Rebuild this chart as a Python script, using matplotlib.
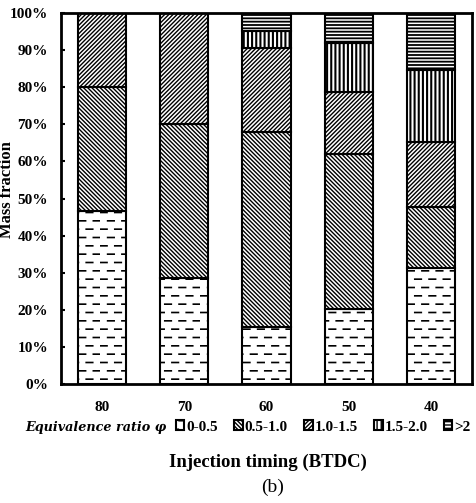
import warnings
import numpy as np
import matplotlib
matplotlib.use('Agg')
import matplotlib.pyplot as plt
import matplotlib.hatch as mhatch
from matplotlib.path import Path

warnings.filterwarnings('ignore')

# data: mass fraction (%) per equivalence-ratio band
timings = ['80', '70', '60', '50', '40']
bands = ['0-0.5', '0.5-1.0', '1.0-1.5', '1.5-2.0', '>2']
phi_00_05 = [46.7, 28.5, 15.4, 20.1, 31.4]
phi_05_10 = [33.3, 41.5, 52.6, 41.9, 16.4]
phi_10_15 = [20.0, 30.0, 22.5, 16.6, 17.5]
phi_15_20 = [0.0, 0.0, 4.6, 13.2, 19.3]
phi_gt_20 = [0.0, 0.0, 4.9, 8.2, 15.4]
yticks = [0, 10, 20, 30, 40, 50, 60, 70, 80, 90, 100]


# brick-style dashed hatch, triggered by '_'
class DashHatch(mhatch.HatchPatternBase):
    rows = 12
    dashes = 7

    def __init__(self, hatch, density):
        self.num_vertices = self.rows * self.dashes * 2 if '_' in hatch else 0

    def set_vertices_and_codes(self, vertices, codes):
        per = 1.0 / self.dashes
        pts = []
        for r in range(self.rows):
            y = (r + 0.5) / self.rows
            off = 0.5 * per * (r % 2)
            for k in range(self.dashes):
                x0 = off + k * per + 0.005
                pts.append((x0, y))
                pts.append((x0 + 0.065, y))
        vertices[:] = pts
        codes[0::2] = Path.MOVETO
        codes[1::2] = Path.LINETO


mhatch._hatch_types.append(DashHatch)

plt.rcParams['font.family'] = 'Liberation Serif'

fig = plt.figure(figsize=(4.77, 5.03), dpi=100)
ax = fig.add_axes([0.128, 0.2366, 0.8615, 0.7374])

series = [phi_00_05, phi_05_10, phi_10_15, phi_15_20, phi_gt_20]
hatches = ['_', '\\' * 8, '/' * 8, '||||', '-----']
hatch_lw = [1.2, 1.0, 1.0, 1.5, 1.3]
x = np.arange(len(timings))
bottom = np.zeros(len(timings))
handles = []
for vals, h, lw, lab in zip(series, hatches, hatch_lw, bands):
    with plt.rc_context({'hatch.linewidth': lw}):
        b = ax.bar(x, vals, 0.585, bottom=bottom, color='white', edgecolor='black',
                   linewidth=1.5, hatch=h, label=lab)
    handles.append(b)
    bottom += np.array(vals)

ax.set_xlim(-0.5, 4.5)
ax.set_ylim(0, 100)
ax.set_xticks(x)
ax.set_xticklabels(timings, fontsize=11, fontweight='bold')
ax.set_yticks(yticks)
ax.set_yticklabels([f'{v}%' for v in yticks], fontsize=11, fontweight='bold')
ax.tick_params(axis='x', length=0, pad=12)
ax.tick_params(axis='y', direction='in', length=3, width=1.5, pad=9.5)
for s in ax.spines.values():
    s.set_linewidth(2)

fig.text(167 / 477, 1 - 427 / 503, 'Equivalence ratio \u03c6', ha='right', va='center',
         fontsize=9.2, fontweight='bold', style='italic', family='DejaVu Serif')
fig.legend(handles=handles, labels=bands, loc='center left',
           bbox_to_anchor=(176 / 477, 1 - 427 / 503), ncol=5, frameon=False,
           prop={'weight': 'bold', 'size': 11}, handlelength=0.55, handleheight=0.55,
           handletextpad=0.12, columnspacing=1.08, borderpad=0, borderaxespad=0)

fig.text(268 / 477, 1 - 462 / 503, 'Injection timing (BTDC)', ha='center', va='center',
         fontsize=13.5, fontweight='bold')
fig.text(273 / 477, 1 - 487 / 503, '(b)', ha='center', va='center', fontsize=14)
fig.text(7 / 477, 1 - 190 / 503, 'Mass fraction', ha='center', va='center',
         rotation=90, fontsize=12, fontweight='bold')

fig.savefig('out.png', dpi=100)
